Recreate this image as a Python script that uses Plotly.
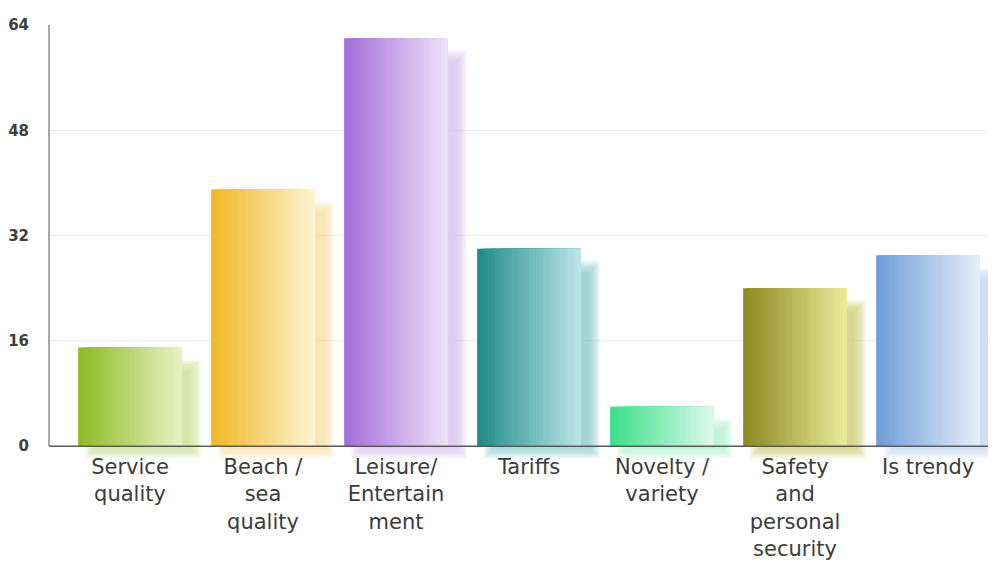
import plotly.graph_objects as go

# ---------------- data ----------------
categories = ["Service<br>quality", "Beach /<br>sea<br>quality", "Leisure/<br>Entertain<br>ment",
              "Tariffs", "Novelty /<br>variety", "Safety<br>and<br>personal<br>security", "Is trendy"]
values = [15, 39, 62, 30, 6, 24, 29]
left_colors = ["#8cba22", "#f0b822", "#a46cda", "#1e8a88", "#3ae088", "#8a8820", "#6e9dd8"]
right_colors = ["#e8f2c4", "#fdf4d2", "#eee2f7", "#bce6e8", "#ddf8ea", "#eaea9a", "#e6eef9"]
y_ticks = [0, 16, 32, 48, 64]

# ---------------- helpers ----------------
def hex2rgb(h):
    h = h.lstrip("#")
    return tuple(int(h[i:i + 2], 16) for i in (0, 2, 4))

def mix(c1, c2, t):
    a, b = hex2rgb(c1), hex2rgb(c2)
    return "rgb(%d,%d,%d)" % tuple(round(a[i] + (b[i] - a[i]) * t) for i in range(3))

x = list(range(len(values)))
BAR_W = 0.78
N_STRIPS = 30
PX_X = 133.0      # approx pixels per category
PX_Y = 6.58       # approx pixels per value unit
Y_MIN = -2.4

fig = go.Figure()

# ---------------- soft shadows ----------------
dx = 13 / PX_X
drop = 18 / PX_Y
below = 6 / PX_Y
shadow_cols = [mix(l, r, 0.72) for l, r in zip(left_colors, right_colors)]
for g in [-6, -4.5, -3, -1.5, 0, 1.5, 3, 4.5, 6]:
    gx, gy = g / PX_X, g / PX_Y
    base = -below - gy
    tops = [v - drop + gy for v in values]
    fig.add_bar(
        x=x, y=[t - base for t in tops], base=[base] * len(values),
        offset=-BAR_W / 2 + dx - gx, width=BAR_W + 2 * gx,
        marker=dict(color=shadow_cols, line_width=0, opacity=0.16),
        hoverinfo="skip", showlegend=False,
    )

# ---------------- gradient bars (strips) ----------------
for k in range(N_STRIPS):
    t = (k + 0.5) / N_STRIPS
    off = -BAR_W / 2 + k * BAR_W / N_STRIPS
    w = BAR_W - k * BAR_W / N_STRIPS
    fig.add_bar(
        x=x, y=values, offset=off, width=w,
        marker=dict(color=[mix(l, r, t) for l, r in zip(left_colors, right_colors)], line_width=0),
        hoverinfo="skip", showlegend=False,
    )

fig.update_layout(
    width=988, height=553,
    margin=dict(l=41, r=0, t=17, b=99),
    paper_bgcolor="white", plot_bgcolor="white",
    barmode="overlay", showlegend=False,
    xaxis=dict(
        range=[-0.609, 6.511], tickvals=x, ticktext=categories,
        showgrid=False, zeroline=False, showline=False, ticks="",
        tickfont=dict(family="DejaVu Sans", size=21, color="#3c3c3c"),
        ticklabelstandoff=-10,
    ),
    yaxis=dict(
        range=[Y_MIN, 64], tickvals=y_ticks,
        showgrid=True, gridcolor="#ebebeb", gridwidth=1,
        zeroline=False, showline=False, ticks="",
        tickfont=dict(family="DejaVu Sans", size=15, color="#404040", weight="bold"),
        ticklabelstandoff=19,
    ),
    shapes=[
        dict(type="line", xref="paper", x0=0, x1=1, yref="y", y0=0, y1=0,
             line=dict(color="#5a5a5a", width=1.5), layer="above"),
        dict(type="line", xref="paper", x0=0, x1=0, yref="y", y0=0, y1=64,
             line=dict(color="#a8a8a8", width=2), layer="above"),
    ],
)

fig.write_html("out.html")
